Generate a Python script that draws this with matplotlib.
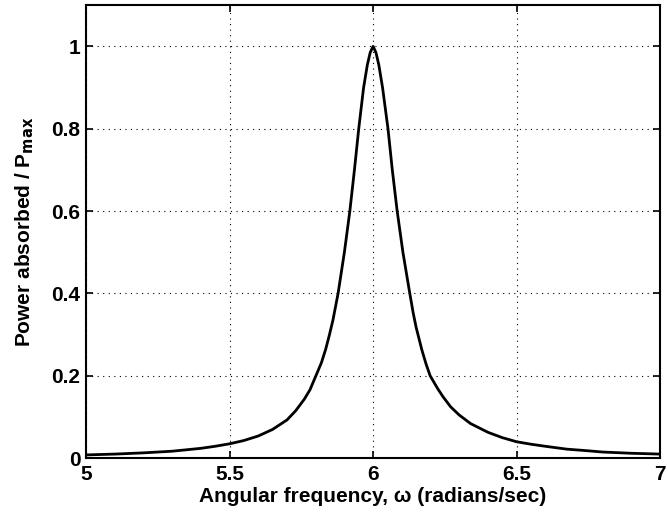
import matplotlib
matplotlib.use("Agg")
import matplotlib.pyplot as plt

plt.rcParams.update({
    "font.family": ["Liberation Sans", "DejaVu Sans"],
    "font.size": 15,
    "font.weight": "bold",
    "axes.labelweight": "bold",
    "axes.linewidth": 1.5,
    "mathtext.default": "bf",
})

# values
omega = [5.00, 5.10, 5.20, 5.30, 5.40, 5.45, 5.50, 5.55, 5.60, 5.65,
         5.70, 5.73, 5.76, 5.78, 5.80, 5.82, 5.835, 5.848, 5.86, 5.878, 5.90,
         5.919, 5.935, 5.950, 5.967, 5.980, 5.990, 6.000, 6.010, 6.020,
         6.033, 6.052, 6.067, 6.084, 6.104, 6.128, 6.140, 6.150, 6.170, 6.185,
         6.199, 6.226, 6.243, 6.27, 6.30, 6.34, 6.40, 6.45, 6.50, 6.55, 6.60,
         6.675, 6.75, 6.80, 6.90, 7.00]
power = [0.008, 0.010, 0.013, 0.017, 0.024, 0.029, 0.035, 0.043, 0.054, 0.070,
         0.093, 0.115, 0.143, 0.166, 0.199, 0.232, 0.265, 0.300, 0.335, 0.400, 0.500,
         0.600, 0.700, 0.800, 0.900, 0.955, 0.985, 1.000, 0.985, 0.955,
         0.900, 0.800, 0.700, 0.600, 0.500, 0.400, 0.352, 0.318, 0.263, 0.228,
         0.200, 0.168, 0.150, 0.125, 0.105, 0.084, 0.063, 0.050, 0.040, 0.034, 0.029,
         0.022, 0.018, 0.015, 0.012, 0.010]

xticks = [5, 5.5, 6, 6.5, 7]
xticklabels = ["5", "5.5", "6", "6.5", "7"]
yticks = [0, 0.2, 0.4, 0.6, 0.8, 1.0]
yticklabels = ["0", "0.2", "0.4", "0.6", "0.8", "1"]

fig = plt.figure(figsize=(6.68, 5.16), dpi=100)
ax = fig.add_axes([0.129, 0.112, 0.859, 0.878])

ax.plot(omega, power, color="black", linewidth=2.0, solid_joinstyle="round")

ax.set_xlim(5, 7)
ax.set_ylim(0, 1.1)
ax.set_xticks(xticks)
ax.set_xticklabels(xticklabels)
ax.set_yticks(yticks)
ax.set_yticklabels(yticklabels)
ax.tick_params(direction="in", top=True, right=True, length=5, width=1.2)
ax.tick_params(axis="y", pad=4)
ax.tick_params(axis="x", pad=5)
ax.grid(True, color="black", linestyle=(0, (1, 4)), linewidth=0.8)

ax.set_xlabel("Angular frequency, ω (radians/sec)", labelpad=2)
ax.set_ylabel("Power absorbed / P$_{\\mathbf{max}}$", labelpad=11)

fig.savefig("out.png", dpi=100)
